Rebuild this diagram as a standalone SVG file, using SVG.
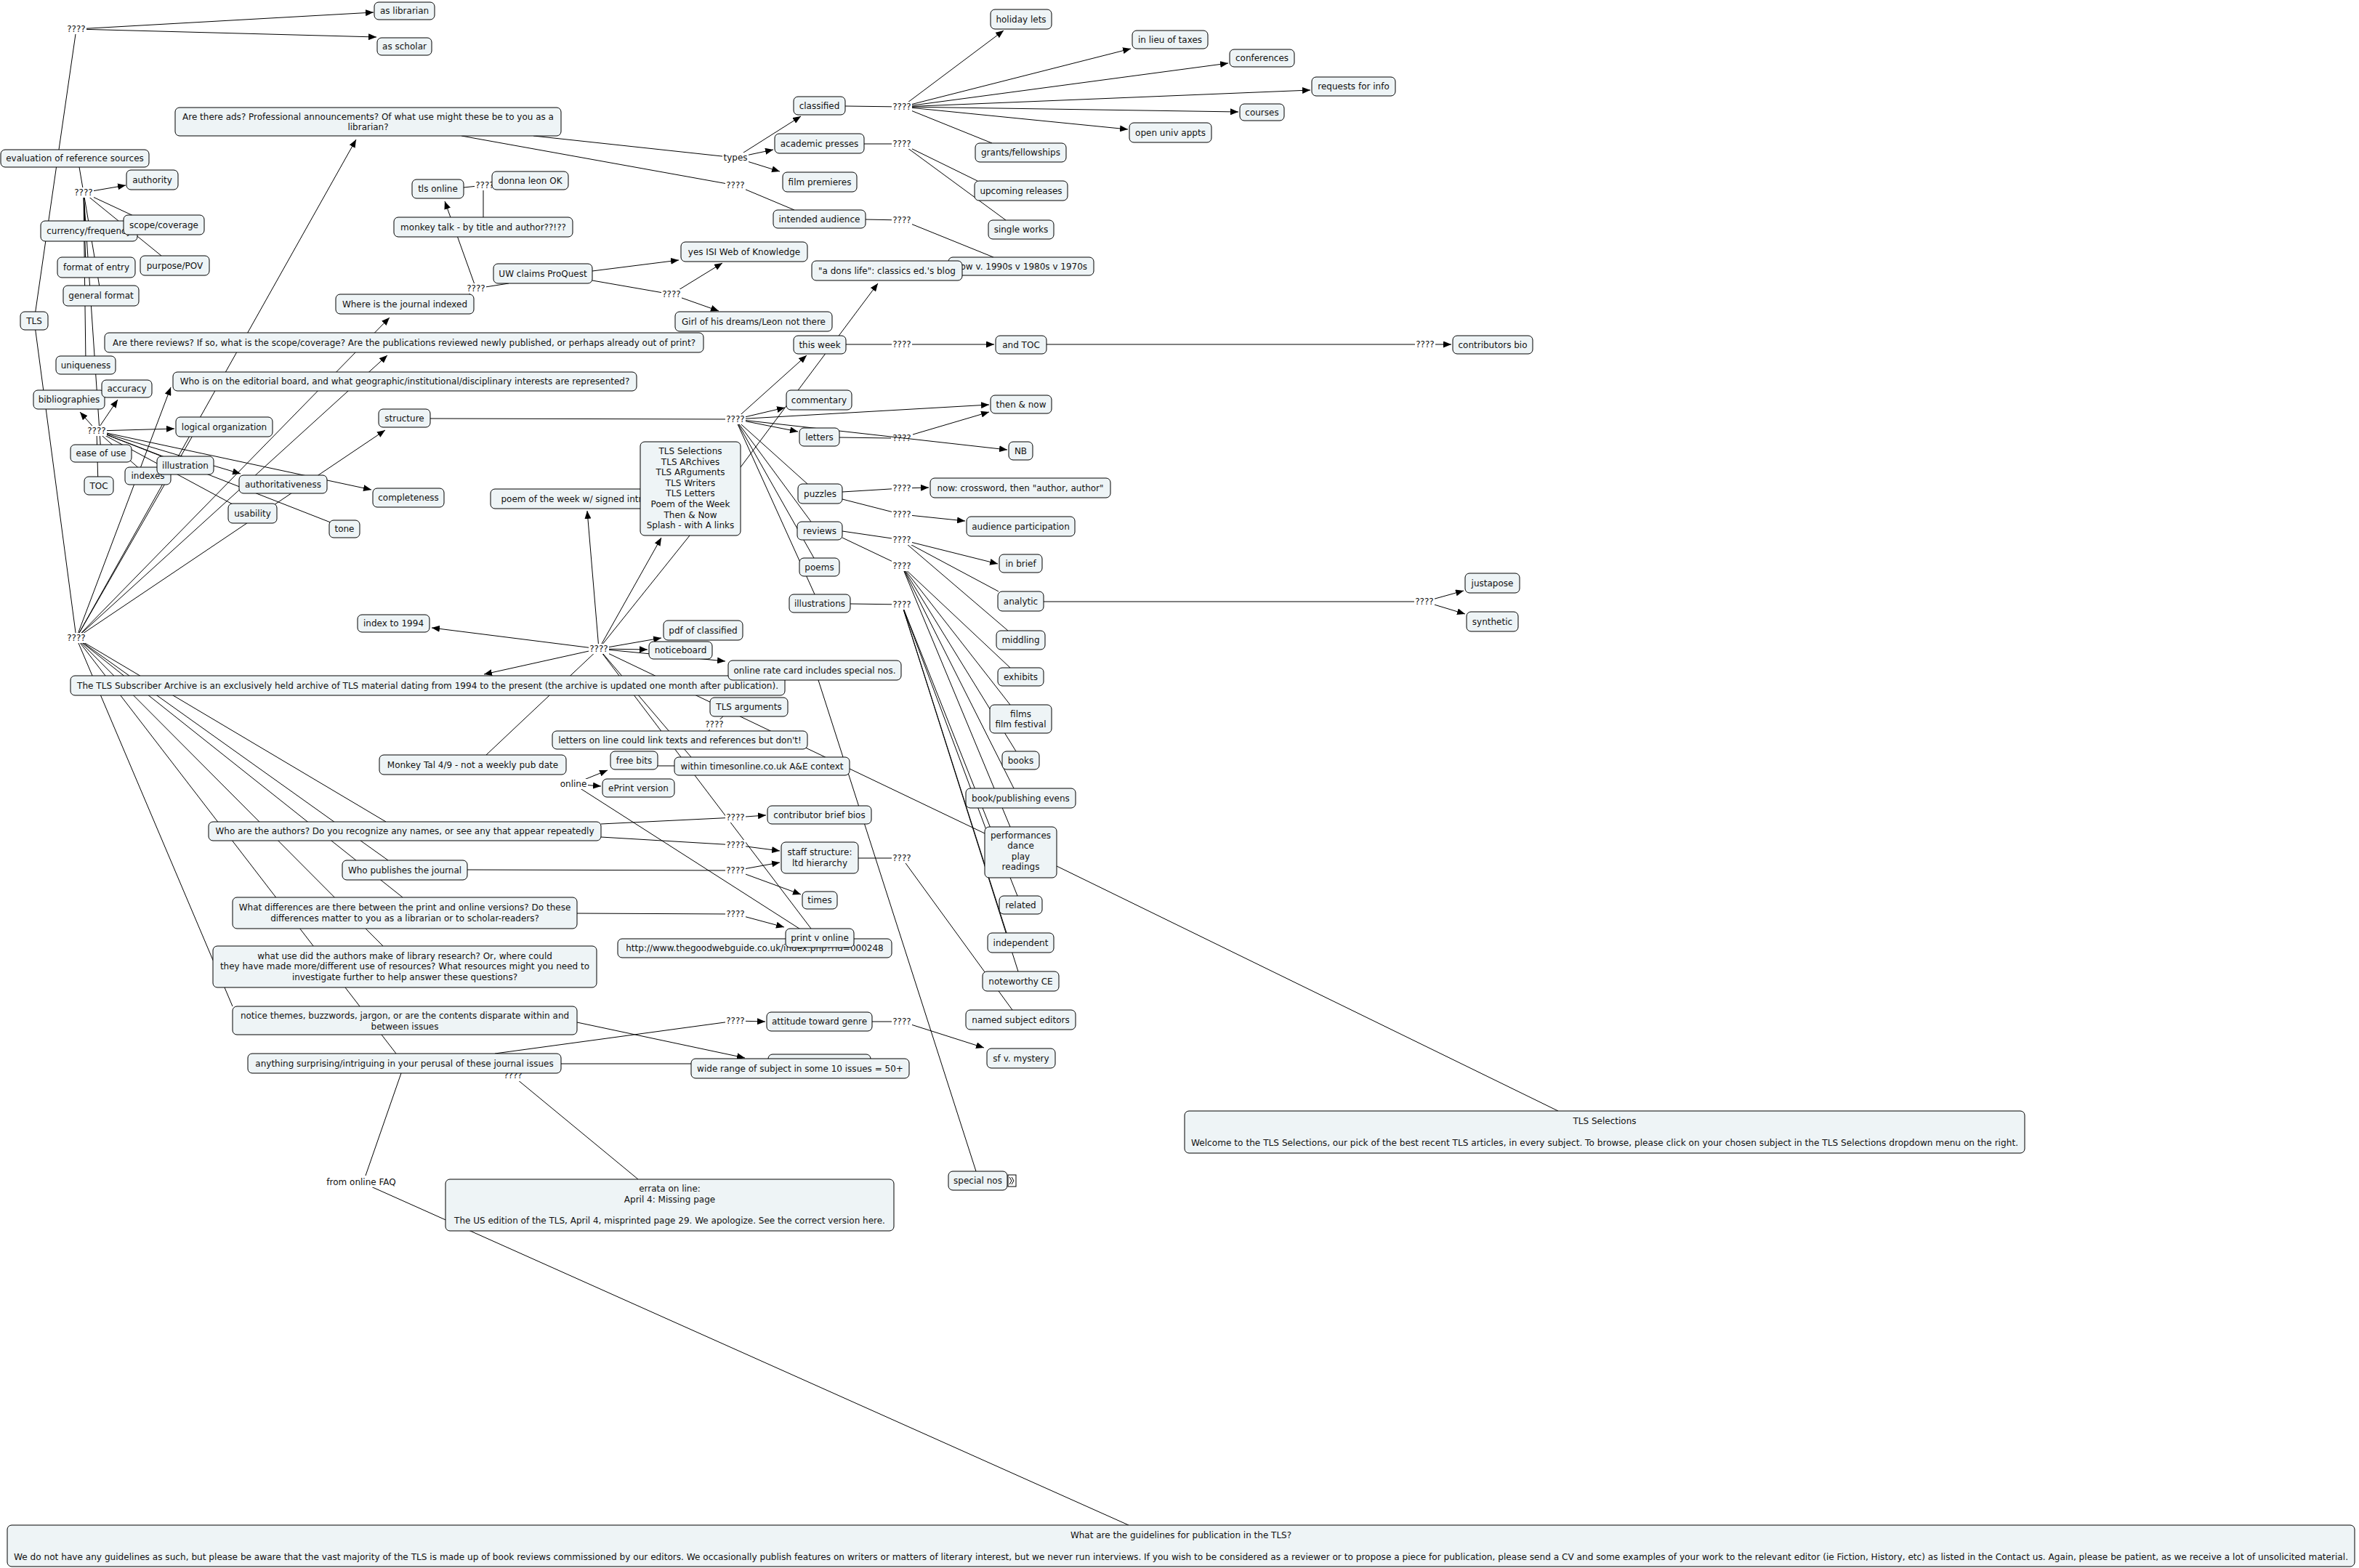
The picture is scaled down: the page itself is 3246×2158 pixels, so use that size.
<svg xmlns="http://www.w3.org/2000/svg" width="3246" height="2158" viewBox="0 0 3246 2158">
<defs>
<marker id="ar" viewBox="0 0 11 9" refX="11" refY="4.5" markerWidth="11" markerHeight="9" markerUnits="userSpaceOnUse" orient="auto"><path d="M0,0L11,4.5L0,9z" fill="#000"/></marker>
</defs>
<style>
.n rect{fill:#eef4f6;stroke:#000;stroke-width:1}
text{font-family:"DejaVu Sans",Verdana,sans-serif;font-size:12px;fill:#111;text-anchor:middle}
#connectors line{stroke:#000;stroke-width:1;fill:none}
#connectors line.a{marker-end:url(#ar)}
.lb rect{fill:#fff}
</style>
<rect width="3246" height="2158" fill="#fff"/>
<g id="connectors">
<line x1="47" y1="441" x2="105" y2="40"/>
<line class="a" x1="105" y1="40" x2="514" y2="17"/>
<line class="a" x1="105" y1="40" x2="518" y2="51"/>
<line x1="107" y1="218" x2="115" y2="265"/>
<line class="a" x1="115" y1="265" x2="173" y2="255"/>
<line x1="115" y1="265" x2="190" y2="300"/>
<line x1="115" y1="265" x2="222" y2="352"/>
<line x1="115" y1="265" x2="117" y2="310"/>
<line x1="115" y1="265" x2="118" y2="368"/>
<line x1="115" y1="265" x2="139" y2="407"/>
<line x1="115" y1="265" x2="118" y2="500"/>
<line x1="115" y1="265" x2="139" y2="624"/>
<line class="a" x1="133" y1="593" x2="110" y2="567"/>
<line class="a" x1="133" y1="593" x2="162" y2="550"/>
<line class="a" x1="133" y1="593" x2="240" y2="590"/>
<line x1="133" y1="593" x2="135" y2="668"/>
<line x1="133" y1="593" x2="203" y2="655"/>
<line x1="133" y1="593" x2="255" y2="640"/>
<line class="a" x1="133" y1="593" x2="331" y2="652"/>
<line class="a" x1="133" y1="593" x2="511" y2="674"/>
<line x1="133" y1="593" x2="460" y2="721"/>
<line x1="133" y1="593" x2="322" y2="695"/>
<line x1="47" y1="441" x2="105" y2="878"/>
<line class="a" x1="105" y1="878" x2="235" y2="533"/>
<line x1="105" y1="878" x2="266" y2="598"/>
<line class="a" x1="105" y1="878" x2="490" y2="192"/>
<line class="a" x1="105" y1="878" x2="536" y2="437"/>
<line class="a" x1="105" y1="878" x2="533" y2="489"/>
<line class="a" x1="105" y1="878" x2="530" y2="592"/>
<line x1="105" y1="878" x2="531" y2="1131"/>
<line x1="105" y1="878" x2="534" y2="1184"/>
<line x1="105" y1="878" x2="554" y2="1235"/>
<line x1="105" y1="878" x2="527" y2="1302"/>
<line x1="105" y1="878" x2="320" y2="1385"/>
<line x1="105" y1="878" x2="545" y2="1450"/>
<line class="a" x1="824" y1="893" x2="594" y2="864"/>
<line class="a" x1="824" y1="893" x2="666" y2="928"/>
<line class="a" x1="824" y1="893" x2="910" y2="878"/>
<line class="a" x1="824" y1="893" x2="891" y2="894"/>
<line class="a" x1="824" y1="893" x2="998" y2="910"/>
<line class="a" x1="824" y1="893" x2="910" y2="740"/>
<line x1="949" y1="737" x2="824" y2="893"/>
<line class="a" x1="824" y1="893" x2="808" y2="703"/>
<line x1="824" y1="893" x2="669" y2="1039"/>
<line x1="824" y1="893" x2="1116" y2="1278"/>
<line x1="824" y1="893" x2="951" y2="1042"/>
<line x1="824" y1="893" x2="1355" y2="1147"/>
<line x1="995" y1="986" x2="983" y2="997"/>
<line x1="983" y1="997" x2="975" y2="1006"/>
<line class="a" x1="1019" y1="643" x2="1208" y2="390"/>
<line x1="635" y1="187" x2="1012" y2="255"/>
<line x1="734" y1="187" x2="1012" y2="217"/>
<line class="a" x1="1012" y1="217" x2="1102" y2="160"/>
<line class="a" x1="1012" y1="217" x2="1064" y2="206"/>
<line class="a" x1="1012" y1="217" x2="1073" y2="236"/>
<line x1="1012" y1="255" x2="1093" y2="289"/>
<line x1="1163" y1="146" x2="1241" y2="147"/>
<line class="a" x1="1241" y1="147" x2="1381" y2="42"/>
<line class="a" x1="1241" y1="147" x2="1556" y2="67"/>
<line class="a" x1="1241" y1="147" x2="1690" y2="87"/>
<line class="a" x1="1241" y1="147" x2="1803" y2="124"/>
<line class="a" x1="1241" y1="147" x2="1704" y2="154"/>
<line class="a" x1="1241" y1="147" x2="1552" y2="178"/>
<line x1="1241" y1="147" x2="1365" y2="197"/>
<line x1="1189" y1="198" x2="1241" y2="198"/>
<line x1="1241" y1="198" x2="1345" y2="249"/>
<line x1="1241" y1="198" x2="1384" y2="303"/>
<line x1="1191" y1="302" x2="1241" y2="303"/>
<line x1="1241" y1="303" x2="1367" y2="354"/>
<line class="a" x1="815" y1="373" x2="934" y2="358"/>
<line x1="815" y1="386" x2="924" y2="405"/>
<line class="a" x1="924" y1="405" x2="994" y2="362"/>
<line class="a" x1="924" y1="405" x2="989" y2="428"/>
<line x1="640" y1="410" x2="655" y2="397"/>
<line x1="700" y1="390" x2="655" y2="397"/>
<line class="a" x1="655" y1="397" x2="612" y2="277"/>
<line x1="665" y1="299" x2="665" y2="255"/>
<line x1="638" y1="258" x2="667" y2="255"/>
<line x1="667" y1="255" x2="700" y2="250"/>
<line x1="1164" y1="474" x2="1241" y2="474"/>
<line class="a" x1="1241" y1="474" x2="1368" y2="474"/>
<line x1="1440" y1="474" x2="1961" y2="474"/>
<line class="a" x1="1961" y1="474" x2="1997" y2="474"/>
<line x1="592" y1="576" x2="1012" y2="577"/>
<line class="a" x1="1012" y1="577" x2="1080" y2="561"/>
<line class="a" x1="1012" y1="577" x2="1361" y2="557"/>
<line class="a" x1="1012" y1="577" x2="1098" y2="594"/>
<line class="a" x1="1012" y1="577" x2="1386" y2="619"/>
<line class="a" x1="1012" y1="577" x2="1110" y2="489"/>
<line x1="1012" y1="577" x2="1111" y2="666"/>
<line x1="1012" y1="577" x2="1116" y2="718"/>
<line x1="1012" y1="577" x2="1120" y2="768"/>
<line x1="1012" y1="577" x2="1121" y2="818"/>
<line x1="1155" y1="602" x2="1226" y2="603"/>
<line class="a" x1="1256" y1="598" x2="1361" y2="567"/>
<line x1="1159" y1="677" x2="1241" y2="672"/>
<line class="a" x1="1241" y1="672" x2="1278" y2="671"/>
<line x1="1159" y1="687" x2="1241" y2="708"/>
<line class="a" x1="1241" y1="708" x2="1328" y2="717"/>
<line x1="1159" y1="731" x2="1241" y2="743"/>
<line class="a" x1="1241" y1="743" x2="1373" y2="776"/>
<line x1="1241" y1="743" x2="1374" y2="814"/>
<line x1="1241" y1="743" x2="1387" y2="868"/>
<line x1="1159" y1="740" x2="1241" y2="779"/>
<line x1="1241" y1="779" x2="1390" y2="919"/>
<line x1="1241" y1="779" x2="1390" y2="970"/>
<line x1="1241" y1="779" x2="1398" y2="1034"/>
<line x1="1241" y1="779" x2="1395" y2="1085"/>
<line x1="1241" y1="779" x2="1390" y2="1138"/>
<line x1="1170" y1="831" x2="1241" y2="832"/>
<line x1="1241" y1="832" x2="1400" y2="1233"/>
<line x1="1241" y1="832" x2="1385" y2="1284"/>
<line x1="1241" y1="832" x2="1401" y2="1337"/>
<line x1="1241" y1="832" x2="1360" y2="1150"/>
<line x1="1436" y1="828" x2="1960" y2="828"/>
<line class="a" x1="1960" y1="828" x2="2014" y2="813"/>
<line class="a" x1="1960" y1="828" x2="2016" y2="845"/>
<line x1="827" y1="1134" x2="1012" y2="1125"/>
<line class="a" x1="1012" y1="1125" x2="1054" y2="1122"/>
<line x1="827" y1="1152" x2="1012" y2="1163"/>
<line class="a" x1="1012" y1="1163" x2="1073" y2="1171"/>
<line x1="643" y1="1197" x2="1012" y2="1198"/>
<line class="a" x1="1012" y1="1198" x2="1073" y2="1187"/>
<line class="a" x1="1012" y1="1198" x2="1102" y2="1231"/>
<line x1="794" y1="1257" x2="1012" y2="1258"/>
<line class="a" x1="1012" y1="1258" x2="1079" y2="1276"/>
<line x1="1181" y1="1181" x2="1241" y2="1181"/>
<line x1="1241" y1="1181" x2="1393" y2="1390"/>
<line class="a" x1="789" y1="1079" x2="836" y2="1060"/>
<line class="a" x1="789" y1="1079" x2="827" y2="1082"/>
<line x1="789" y1="1079" x2="1103" y2="1280"/>
<line x1="905" y1="1054" x2="928" y2="1054"/>
<line x1="1126" y1="936" x2="1343" y2="1612"/>
<line x1="1454" y1="1192" x2="2144" y2="1529"/>
<line class="a" x1="794" y1="1407" x2="1025" y2="1456"/>
<line x1="681" y1="1450" x2="1012" y2="1405"/>
<line class="a" x1="1012" y1="1405" x2="1053" y2="1406"/>
<line x1="1200" y1="1406" x2="1241" y2="1406"/>
<line class="a" x1="1241" y1="1406" x2="1354" y2="1442"/>
<line x1="772" y1="1464" x2="951" y2="1464"/>
<line x1="706" y1="1477" x2="706" y2="1481"/>
<line x1="706" y1="1481" x2="878" y2="1623"/>
<line x1="552" y1="1477" x2="503" y2="1618"/>
<line x1="497" y1="1627" x2="1553" y2="2099"/>
</g>
<g id="labels">
<g class="lb"><rect x="91" y="33" width="28" height="14"/><text x="105" y="44">????</text></g>
<g class="lb"><rect x="101" y="258" width="28" height="14"/><text x="115" y="269">????</text></g>
<g class="lb"><rect x="653" y="248" width="28" height="14"/><text x="667" y="259">????</text></g>
<g class="lb"><rect x="641" y="390" width="28" height="14"/><text x="655" y="401">????</text></g>
<g class="lb"><rect x="119" y="586" width="28" height="14"/><text x="133" y="597">????</text></g>
<g class="lb"><rect x="91" y="871" width="28" height="14"/><text x="105" y="882">????</text></g>
<g class="lb"><rect x="810" y="886" width="28" height="14"/><text x="824" y="897">????</text></g>
<g class="lb"><rect x="1227" y="140" width="28" height="14"/><text x="1241" y="151">????</text></g>
<g class="lb"><rect x="1227" y="191" width="28" height="14"/><text x="1241" y="202">????</text></g>
<g class="lb"><rect x="994" y="210" width="36" height="14"/><text x="1012" y="221">types</text></g>
<g class="lb"><rect x="998" y="248" width="28" height="14"/><text x="1012" y="259">????</text></g>
<g class="lb"><rect x="1227" y="296" width="28" height="14"/><text x="1241" y="307">????</text></g>
<g class="lb"><rect x="910" y="398" width="28" height="14"/><text x="924" y="409">????</text></g>
<g class="lb"><rect x="1227" y="467" width="28" height="14"/><text x="1241" y="478">????</text></g>
<g class="lb"><rect x="1947" y="467" width="28" height="14"/><text x="1961" y="478">????</text></g>
<g class="lb"><rect x="998" y="570" width="28" height="14"/><text x="1012" y="581">????</text></g>
<g class="lb"><text x="1241" y="607">????</text></g>
<g class="lb"><rect x="1227" y="665" width="28" height="14"/><text x="1241" y="676">????</text></g>
<g class="lb"><rect x="1227" y="701" width="28" height="14"/><text x="1241" y="712">????</text></g>
<g class="lb"><rect x="1227" y="736" width="28" height="14"/><text x="1241" y="747">????</text></g>
<g class="lb"><rect x="1227" y="772" width="28" height="14"/><text x="1241" y="783">????</text></g>
<g class="lb"><rect x="1227" y="825" width="28" height="14"/><text x="1241" y="836">????</text></g>
<g class="lb"><rect x="1946" y="821" width="28" height="14"/><text x="1960" y="832">????</text></g>
<g class="lb"><rect x="969" y="990" width="28" height="14"/><text x="983" y="1001">????</text></g>
<g class="lb"><rect x="1227" y="1174" width="28" height="14"/><text x="1241" y="1185">????</text></g>
<g class="lb"><rect x="998" y="1118" width="28" height="14"/><text x="1012" y="1129">????</text></g>
<g class="lb"><rect x="998" y="1156" width="28" height="14"/><text x="1012" y="1167">????</text></g>
<g class="lb"><rect x="998" y="1191" width="28" height="14"/><text x="1012" y="1202">????</text></g>
<g class="lb"><rect x="998" y="1251" width="28" height="14"/><text x="1012" y="1262">????</text></g>
<g class="lb"><rect x="998" y="1398" width="28" height="14"/><text x="1012" y="1409">????</text></g>
<g class="lb"><rect x="1227" y="1399" width="28" height="14"/><text x="1241" y="1410">????</text></g>
<g class="lb"><rect x="692" y="1474" width="28" height="14"/><text x="706" y="1484">????</text></g>
<g class="lb"><rect x="769" y="1072" width="40" height="14"/><text x="789" y="1083">online</text></g>
<g class="lb"><rect x="449" y="1620" width="96" height="14"/><text x="497" y="1631">from online FAQ</text></g>
</g>
<g id="nodes">
<g id="n-librarian" class="n"><rect x="515" y="3" width="83" height="24" rx="6"/><text x="556.5" y="19">as librarian</text></g>
<g id="n-scholar" class="n"><rect x="519" y="52" width="75" height="24" rx="6"/><text x="556.5" y="68">as scholar</text></g>
<g id="n-eval" class="n"><rect x="1" y="206" width="204" height="24" rx="6"/><text x="103" y="222">evaluation of reference sources</text></g>
<g id="n-authority" class="n"><rect x="174" y="234" width="71" height="27" rx="6"/><text x="209.5" y="251.5">authority</text></g>
<g id="n-currency" class="n"><rect x="56" y="304" width="133" height="28" rx="6"/><text x="122.5" y="322">currency/frequency</text></g>
<g id="n-scope" class="n"><rect x="170" y="296" width="111" height="27" rx="6"/><text x="225.5" y="313.5">scope/coverage</text></g>
<g id="n-formatentry" class="n"><rect x="79" y="354" width="107" height="28" rx="6"/><text x="132.5" y="372">format of entry</text></g>
<g id="n-purpose" class="n"><rect x="193" y="352" width="95" height="27" rx="6"/><text x="240.5" y="369.5">purpose/POV</text></g>
<g id="n-general" class="n"><rect x="87" y="393" width="104" height="28" rx="6"/><text x="139" y="411">general format</text></g>
<g id="n-tls" class="n"><rect x="28" y="429" width="38" height="25" rx="6"/><text x="47" y="445.5">TLS</text></g>
<g id="n-uniqueness" class="n"><rect x="77" y="490" width="82" height="25" rx="6"/><text x="118" y="506.5">uniqueness</text></g>
<g id="n-biblio" class="n"><rect x="46" y="537" width="98" height="26" rx="6"/><text x="95" y="554">bibliographies</text></g>
<g id="n-accuracy" class="n"><rect x="140" y="523" width="69" height="24" rx="6"/><text x="174.5" y="539">accuracy</text></g>
<g id="n-logical" class="n"><rect x="242" y="574" width="133" height="27" rx="6"/><text x="308.5" y="591.5">logical organization</text></g>
<g id="n-ease" class="n"><rect x="97" y="612" width="84" height="24" rx="6"/><text x="139" y="628">ease of use</text></g>
<g id="n-toc" class="n"><rect x="116" y="656" width="40" height="25" rx="6"/><text x="136" y="672.5">TOC</text></g>
<g id="n-indexes" class="n"><rect x="172" y="643" width="63" height="24" rx="6"/><text x="203.5" y="659">indexes</text></g>
<g id="n-illustration" class="n"><rect x="216" y="628" width="78" height="25" rx="6"/><text x="255" y="644.5">illustration</text></g>
<g id="n-authoritativeness" class="n"><rect x="329" y="654" width="121" height="25" rx="6"/><text x="389.5" y="670.5">authoritativeness</text></g>
<g id="n-completeness" class="n"><rect x="513" y="672" width="98" height="26" rx="6"/><text x="562" y="689">completeness</text></g>
<g id="n-usability" class="n"><rect x="314" y="693" width="67" height="27" rx="6"/><text x="347.5" y="710.5">usability</text></g>
<g id="n-tone" class="n"><rect x="453" y="716" width="42" height="24" rx="6"/><text x="474" y="732">tone</text></g>
<g id="n-structure" class="n"><rect x="521" y="563" width="71" height="25" rx="6"/><text x="556.5" y="579.5">structure</text></g>
<g id="n-editorial" class="n"><rect x="238" y="512" width="638" height="26" rx="6"/><text x="557" y="529">Who is on the editorial board, and what geographic/institutional/disciplinary interests are represented?</text></g>
<g id="n-reviewsq" class="n"><rect x="144" y="458" width="824" height="27" rx="6"/><text x="556" y="475.5">Are there reviews? If so, what is the scope/coverage? Are the publications reviewed newly published, or perhaps already out of print?</text></g>
<g id="n-ads" class="n"><rect x="241" y="148" width="531" height="39" rx="6"/><text x="506.5" y="165">Are there ads? Professional announcements? Of what use might these be to you as a</text><text x="506.5" y="179">librarian?</text></g>
<g id="n-tlsonline" class="n"><rect x="567" y="247" width="71" height="26" rx="6"/><text x="602.5" y="264">tls online</text></g>
<g id="n-donna" class="n"><rect x="677" y="236" width="105" height="25" rx="6"/><text x="729.5" y="252.5">donna leon OK</text></g>
<g id="n-monkeytalk" class="n"><rect x="542" y="299" width="246" height="27" rx="6"/><text x="665" y="316.5">monkey talk - by title and author??!??</text></g>
<g id="n-uw" class="n"><rect x="679" y="363" width="136" height="27" rx="6"/><text x="747" y="380.5">UW claims ProQuest</text></g>
<g id="n-whereindexed" class="n"><rect x="462" y="405" width="190" height="27" rx="6"/><text x="557" y="422.5">Where is the journal indexed</text></g>
<g id="n-poem" class="n"><rect x="675" y="673" width="230" height="27" rx="6"/><text x="790" y="690.5">poem of the week w/ signed intro</text></g>
<g id="n-tlslist" class="n"><rect x="881" y="608" width="138" height="129" rx="6"/><text x="950" y="625">TLS Selections</text><text x="950" y="639.6">TLS ARchives</text><text x="950" y="654.2">TLS ARguments</text><text x="950" y="668.8">TLS Writers</text><text x="950" y="683.4">TLS Letters</text><text x="950" y="698">Poem of the Week</text><text x="950" y="712.6">Then &amp; Now</text><text x="950" y="727.2">Splash - with A links</text></g>
<g id="n-index1994" class="n"><rect x="492" y="846" width="99" height="24" rx="6"/><text x="541.5" y="862">index to 1994</text></g>
<g id="n-archive" class="n"><rect x="97" y="930" width="983" height="27" rx="6"/><text x="588.5" y="947.5" textLength="965" lengthAdjust="spacingAndGlyphs">The TLS Subscriber Archive is an exclusively held archive of TLS material dating from 1994 to the present (the archive is updated one month after publication).</text></g>
<g id="n-pdf" class="n"><rect x="913" y="854" width="109" height="27" rx="6"/><text x="967.5" y="871.5">pdf of classified</text></g>
<g id="n-noticeboard" class="n"><rect x="893" y="883" width="87" height="24" rx="6"/><text x="936.5" y="899">noticeboard</text></g>
<g id="n-ratecard" class="n"><rect x="1002" y="909" width="238" height="27" rx="6"/><text x="1121" y="926.5">online rate card includes special nos.</text></g>
<g id="n-tlsargs" class="n"><rect x="977" y="960" width="107" height="26" rx="6"/><text x="1030.5" y="977">TLS arguments</text></g>
<g id="n-letterson" class="n"><rect x="760" y="1006" width="351" height="25" rx="6"/><text x="935.5" y="1022.5">letters on line could link texts and references but don't!</text></g>
<g id="n-freebits" class="n"><rect x="840" y="1034" width="65" height="25" rx="6"/><text x="872.5" y="1050.5">free bits</text></g>
<g id="n-within" class="n"><rect x="928" y="1042" width="241" height="25" rx="6"/><text x="1048.5" y="1058.5">within timesonline.co.uk A&amp;E context</text></g>
<g id="n-eprint" class="n"><rect x="829" y="1072" width="99" height="25" rx="6"/><text x="878.5" y="1088.5">ePrint version</text></g>
<g id="n-monkeytal" class="n"><rect x="522" y="1039" width="257" height="27" rx="6"/><text x="650.5" y="1056.5">Monkey Tal 4/9 - not a weekly pub date</text></g>
<g id="n-whoauthors" class="n"><rect x="287" y="1131" width="540" height="26" rx="6"/><text x="557" y="1148">Who are the authors? Do you recognize any names, or see any that appear repeatedly</text></g>
<g id="n-contrib" class="n"><rect x="1056" y="1109" width="143" height="25" rx="6"/><text x="1127.5" y="1125.5">contributor brief bios</text></g>
<g id="n-staff" class="n"><rect x="1075" y="1159" width="106" height="43" rx="6"/><text x="1128" y="1176.6">staff structure:</text><text x="1128" y="1191.5">ltd hierarchy</text></g>
<g id="n-whopub" class="n"><rect x="471" y="1184" width="172" height="27" rx="6"/><text x="557" y="1201.5">Who publishes the journal</text></g>
<g id="n-times" class="n"><rect x="1104" y="1227" width="48" height="24" rx="6"/><text x="1128" y="1243">times</text></g>
<g id="n-whatdiff" class="n"><rect x="320" y="1235" width="474" height="43" rx="6"/><text x="557" y="1253">What differences are there between the print and online versions? Do these</text><text x="557" y="1267.5">differences matter to you as a librarian or to scholar-readers?</text></g>
<g id="n-http" class="n"><rect x="850" y="1292" width="377" height="26" rx="6"/><text x="1038.5" y="1309">http://www.thegoodwebguide.co.uk/index.php?rid=000248</text></g>
<g id="n-print" class="n"><rect x="1081" y="1278" width="94" height="26" rx="6"/><text x="1128" y="1295">print v online</text></g>
<g id="n-whatuse" class="n"><rect x="293" y="1302" width="528" height="57" rx="6"/><text x="557" y="1319.5">what use did the authors make of library research? Or, where could</text><text x="557" y="1334">they have made more/different use of resources? What resources might you need to</text><text x="557" y="1348.5">investigate further to help answer these questions?</text></g>
<g id="n-themes" class="n"><rect x="320" y="1385" width="474" height="39" rx="6"/><text x="557" y="1402">notice themes, buzzwords, jargon, or are the contents disparate within and</text><text x="557" y="1416.5">between issues</text></g>
<g id="n-attitude" class="n"><rect x="1055" y="1393" width="145" height="26" rx="6"/><text x="1127.5" y="1410">attitude toward genre</text></g>
<g id="n-surprising" class="n"><rect x="341" y="1450" width="431" height="27" rx="6"/><text x="556.5" y="1467.5">anything surprising/intriguing in your perusal of these journal issues</text></g>
<g id="n-hidden" class="n"><rect x="1057" y="1451" width="141" height="27" rx="6"/></g>
<g id="n-wide" class="n"><rect x="951" y="1457" width="300" height="27" rx="6"/><text x="1101" y="1474.5">wide range of subject in some 10 issues = 50+</text></g>
<g id="n-errata" class="n"><rect x="613" y="1623" width="617" height="71" rx="6"/><text x="921.5" y="1640">errata on line:</text><text x="921.5" y="1655">April 4: Missing page</text><text x="921.5" y="1684">The US edition of the TLS, April 4, misprinted page 29. We apologize. See the correct version here.</text></g>
<g id="n-special" class="n"><rect x="1305" y="1612" width="81" height="26" rx="6"/><text x="1345.5" y="1629">special nos</text><rect x="1387" y="1617" width="11" height="16" rx="0" style="fill:#fff"/><polyline points="1389,1620 1392,1625 1389,1630" fill="none" stroke="#000"/><polyline points="1392,1620 1395,1625 1392,1630" fill="none" stroke="#000"/></g>
<g id="n-tlssel" class="n"><rect x="1630" y="1529" width="1156" height="58" rx="6"/><text x="2208" y="1547">TLS Selections</text><text x="2208" y="1577" textLength="1138" lengthAdjust="spacingAndGlyphs">Welcome to the TLS Selections, our pick of the best recent TLS articles, in every subject. To browse, please click on your chosen subject in the TLS Selections dropdown menu on the right.</text></g>
<g id="n-guidelines" class="n"><rect x="10" y="2099" width="3230" height="57" rx="6"/><text x="1625" y="2117">What are the guidelines for publication in the TLS?</text><text x="1625" y="2147" textLength="3212" lengthAdjust="spacingAndGlyphs">We do not have any guidelines as such, but please be aware that the vast majority of the TLS is made up of book reviews commissioned by our editors. We occasionally publish features on writers or matters of literary interest, but we never run interviews. If you wish to be considered as a reviewer or to propose a piece for publication, please send a CV and some examples of your work to the relevant editor (ie Fiction, History, etc) as listed in the Contact us. Again, please be patient, as we receive a lot of unsolicited material.</text></g>
<g id="n-classified" class="n"><rect x="1092" y="133" width="71" height="25" rx="6"/><text x="1127.5" y="149.5">classified</text></g>
<g id="n-holiday" class="n"><rect x="1363" y="13" width="84" height="27" rx="6"/><text x="1405" y="30.5">holiday lets</text></g>
<g id="n-inlieu" class="n"><rect x="1558" y="42" width="104" height="25" rx="6"/><text x="1610" y="58.5">in lieu of taxes</text></g>
<g id="n-conferences" class="n"><rect x="1692" y="68" width="89" height="24" rx="6"/><text x="1736.5" y="84">conferences</text></g>
<g id="n-requests" class="n"><rect x="1805" y="106" width="115" height="26" rx="6"/><text x="1862.5" y="123">requests for info</text></g>
<g id="n-courses" class="n"><rect x="1706" y="143" width="61" height="23" rx="6"/><text x="1736.5" y="158.5">courses</text></g>
<g id="n-openuniv" class="n"><rect x="1554" y="169" width="113" height="27" rx="6"/><text x="1610.5" y="186.5">open univ appts</text></g>
<g id="n-grants" class="n"><rect x="1342" y="197" width="125" height="26" rx="6"/><text x="1404.5" y="214">grants/fellowships</text></g>
<g id="n-academic" class="n"><rect x="1066" y="184" width="123" height="27" rx="6"/><text x="1127.5" y="201.5">academic presses</text></g>
<g id="n-upcoming" class="n"><rect x="1341" y="249" width="128" height="27" rx="6"/><text x="1405" y="266.5">upcoming releases</text></g>
<g id="n-single" class="n"><rect x="1360" y="303" width="90" height="26" rx="6"/><text x="1405" y="320">single works</text></g>
<g id="n-film" class="n"><rect x="1077" y="237" width="102" height="27" rx="6"/><text x="1128" y="254.5">film premieres</text></g>
<g id="n-intended" class="n"><rect x="1064" y="289" width="127" height="25" rx="6"/><text x="1127.5" y="305.5">intended audience</text></g>
<g id="n-decades" class="n"><rect x="1305" y="354" width="200" height="25" rx="6"/><text x="1405" y="370.5">now v. 1990s v 1980s v 1970s</text></g>
<g id="n-dons" class="n"><rect x="1117" y="359" width="207" height="27" rx="6"/><text x="1220.5" y="376.5">"a dons life": classics ed.'s blog</text></g>
<g id="n-yesisi" class="n"><rect x="937" y="333" width="174" height="27" rx="6"/><text x="1024" y="350.5">yes ISI Web of Knowledge</text></g>
<g id="n-girl" class="n"><rect x="929" y="429" width="216" height="27" rx="6"/><text x="1037" y="446.5">Girl of his dreams/Leon not there</text></g>
<g id="n-thisweek" class="n"><rect x="1092" y="462" width="72" height="25" rx="6"/><text x="1128" y="478.5">this week</text></g>
<g id="n-andtoc" class="n"><rect x="1370" y="462" width="70" height="25" rx="6"/><text x="1405" y="478.5">and TOC</text></g>
<g id="n-contribbio" class="n"><rect x="1999" y="462" width="110" height="25" rx="6"/><text x="2054" y="478.5">contributors bio</text></g>
<g id="n-commentary" class="n"><rect x="1082" y="537" width="90" height="27" rx="6"/><text x="1127" y="554.5">commentary</text></g>
<g id="n-thennow" class="n"><rect x="1363" y="544" width="84" height="25" rx="6"/><text x="1405" y="560.5">then &amp; now</text></g>
<g id="n-letters" class="n"><rect x="1100" y="589" width="55" height="25" rx="6"/><text x="1127.5" y="605.5">letters</text></g>
<g id="n-nb" class="n"><rect x="1388" y="608" width="33" height="25" rx="6"/><text x="1404.5" y="624.5">NB</text></g>
<g id="n-puzzles" class="n"><rect x="1098" y="666" width="61" height="27" rx="6"/><text x="1128.5" y="683.5">puzzles</text></g>
<g id="n-crossword" class="n"><rect x="1280" y="658" width="248" height="27" rx="6"/><text x="1404" y="675.5">now: crossword, then "author, author"</text></g>
<g id="n-audience" class="n"><rect x="1330" y="711" width="149" height="27" rx="6"/><text x="1404.5" y="728.5">audience participation</text></g>
<g id="n-reviews" class="n"><rect x="1097" y="718" width="62" height="25" rx="6"/><text x="1128" y="734.5">reviews</text></g>
<g id="n-inbrief" class="n"><rect x="1375" y="763" width="59" height="25" rx="6"/><text x="1404.5" y="779.5">in brief</text></g>
<g id="n-poems" class="n"><rect x="1100" y="768" width="55" height="25" rx="6"/><text x="1127.5" y="784.5">poems</text></g>
<g id="n-analytic" class="n"><rect x="1373" y="814" width="63" height="27" rx="6"/><text x="1404.5" y="831.5">analytic</text></g>
<g id="n-illustrations" class="n"><rect x="1086" y="818" width="84" height="25" rx="6"/><text x="1128" y="834.5">illustrations</text></g>
<g id="n-middling" class="n"><rect x="1371" y="868" width="67" height="26" rx="6"/><text x="1404.5" y="885">middling</text></g>
<g id="n-exhibits" class="n"><rect x="1373" y="919" width="63" height="25" rx="6"/><text x="1404.5" y="935.5">exhibits</text></g>
<g id="n-films" class="n"><rect x="1362" y="970" width="85" height="39" rx="6"/><text x="1404.5" y="986.8">films</text><text x="1404.5" y="1001.3">film festival</text></g>
<g id="n-books" class="n"><rect x="1379" y="1034" width="51" height="25" rx="6"/><text x="1404.5" y="1050.5">books</text></g>
<g id="n-bookpub" class="n"><rect x="1329" y="1085" width="151" height="27" rx="6"/><text x="1404.5" y="1102.5">book/publishing evens</text></g>
<g id="n-perf" class="n"><rect x="1355" y="1138" width="99" height="70" rx="6"/><text x="1404.5" y="1153.5">performances</text><text x="1404.5" y="1168">dance</text><text x="1404.5" y="1182.5">play</text><text x="1404.5" y="1197">readings</text></g>
<g id="n-related" class="n"><rect x="1375" y="1233" width="59" height="25" rx="6"/><text x="1404.5" y="1249.5">related</text></g>
<g id="n-independent" class="n"><rect x="1359" y="1284" width="91" height="27" rx="6"/><text x="1404.5" y="1301.5">independent</text></g>
<g id="n-noteworthy" class="n"><rect x="1352" y="1337" width="105" height="27" rx="6"/><text x="1404.5" y="1354.5">noteworthy CE</text></g>
<g id="n-named" class="n"><rect x="1329" y="1390" width="151" height="27" rx="6"/><text x="1404.5" y="1407.5">named subject editors</text></g>
<g id="n-sfmystery" class="n"><rect x="1358" y="1443" width="94" height="27" rx="6"/><text x="1405" y="1460.5">sf v. mystery</text></g>
<g id="n-justapose" class="n"><rect x="2016" y="789" width="75" height="27" rx="6"/><text x="2053.5" y="806.5">justapose</text></g>
<g id="n-synthetic" class="n"><rect x="2018" y="842" width="71" height="27" rx="6"/><text x="2053.5" y="859.5">synthetic</text></g>
</g>
</svg>
